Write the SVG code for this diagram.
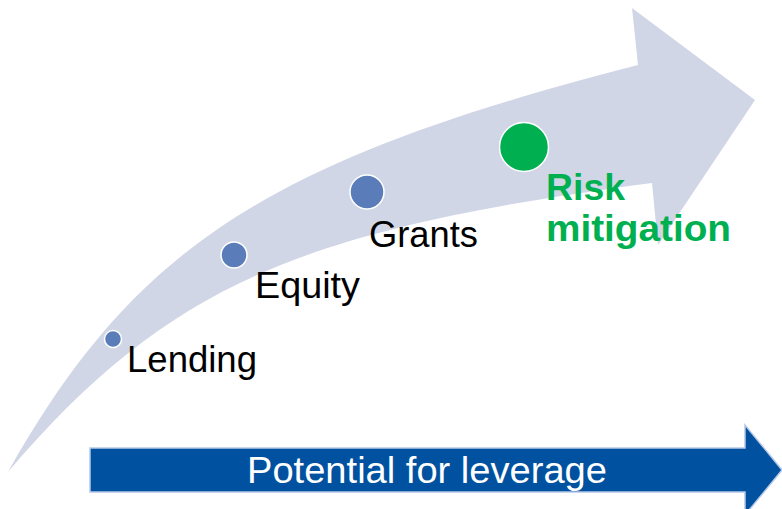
<svg xmlns="http://www.w3.org/2000/svg" width="782" height="509" viewBox="0 0 782 509">
  <style>
    .lbl { font-family: "Liberation Sans", Arial, sans-serif; font-size: 37px; fill: #000000; }
    .grn { font-family: "Liberation Sans", Arial, sans-serif; font-size: 37px; font-weight: bold; fill: #00B050; }
    .axis { font-family: "Liberation Sans", Arial, sans-serif; font-size: 37px; fill: #FFFFFF; }
    .dot { fill: #5A7DBA; stroke: #FFFFFF; stroke-width: 1.5; }
  </style>
  <rect width="782" height="509" fill="#FFFFFF"/>
  <g id="connectors">
    <path id="curved-arrow" d="M8,472 C135,246 269,160 638,65 L632,8 L755,100 L658,245 L652,183 C305,229 170,282 8,472 Z" fill="#D1D6E7"/>
    <path id="leverage-arrow" d="M90,448 L745,448 L745,425 L782,470 L745,515 L745,492 L90,492 Z" fill="#0052A0" stroke="#B4C7E7" stroke-width="1.5"/>
  </g>
  <g id="lending">
    <circle class="dot" cx="113" cy="339" r="8.5"/>
    <text class="lbl" x="127" y="372" textLength="130" lengthAdjust="spacingAndGlyphs">Lending</text>
  </g>
  <g id="equity">
    <circle class="dot" cx="234" cy="255" r="13"/>
    <text class="lbl" x="255" y="298" textLength="105" lengthAdjust="spacingAndGlyphs">Equity</text>
  </g>
  <g id="grants">
    <circle class="dot" cx="367" cy="192" r="17"/>
    <text class="lbl" x="369" y="247" textLength="109" lengthAdjust="spacingAndGlyphs">Grants</text>
  </g>
  <g id="risk-mitigation">
    <circle cx="524" cy="147" r="24.5" fill="#00B050" stroke="#FFFFFF" stroke-width="1.5"/>
    <text class="grn" x="546" y="200" textLength="79" lengthAdjust="spacingAndGlyphs">Risk</text>
    <text class="grn" x="546" y="241" textLength="185" lengthAdjust="spacingAndGlyphs">mitigation</text>
  </g>
  <g id="axis-label">
    <text class="axis" x="247" y="483" textLength="360" lengthAdjust="spacingAndGlyphs">Potential for leverage</text>
  </g>
</svg>
